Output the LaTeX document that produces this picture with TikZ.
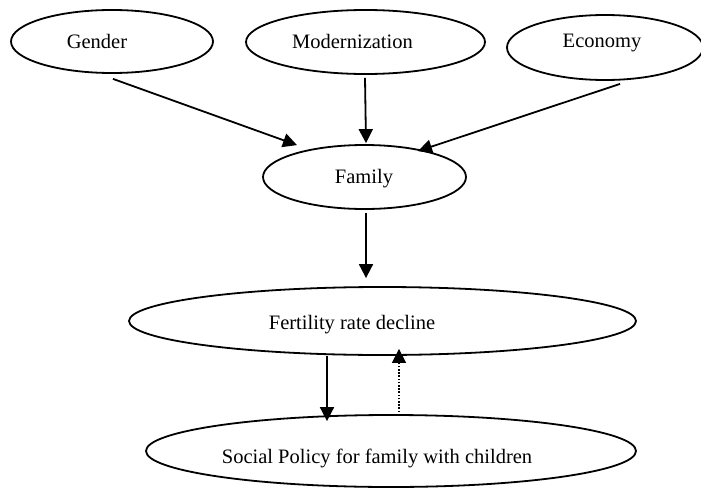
\documentclass[tikz,border=0pt]{standalone}
\usepackage{fontspec}
\setmainfont{Liberation Serif}
\usetikzlibrary{shapes.geometric,arrows.meta}
\begin{document}
\begin{tikzpicture}[x=0.5pt,y=-0.5pt,
  oval/.style={draw,ellipse,line width=0.9pt,inner sep=0pt},
  lbl/.style={anchor=base,inner sep=0pt,font=\fontsize{10.25}{12}\selectfont},
  arr/.style={line width=0.9pt,-{Triangle[length=7pt,width=7pt]}},
  dotarr/.style={line width=0.6pt,dash pattern=on 0.8pt off 0.8pt,-{Triangle[length=7pt,width=7pt]}}]
\useasboundingbox (0,0) rectangle (701,487);
% ellipses
\node[oval,minimum width=101pt,minimum height=31.5pt] (gender) at (112,41.5) {};
\node[oval,minimum width=119.5pt,minimum height=32pt] (modern) at (365.5,42) {};
\node[oval,minimum width=98pt,minimum height=32.5pt] (economy) at (605,47.5) {};
\node[oval,minimum width=101.5pt,minimum height=32pt] (family) at (364.5,177) {};
\node[oval,minimum width=253.5pt,minimum height=34pt] (fert) at (382.5,321) {};
\node[oval,minimum width=245pt,minimum height=36pt] (social) at (391,451) {};
% texts
\node[lbl] (tgender) at (97,48) {Gender};
\node[lbl] (tmodern) at (352.5,48) {Modernization};
\node[lbl] (teconomy) at (602,47.5) {Economy};
\node[lbl] (tfamily) at (364,183) {Family};
\node[lbl] (tfert) at (352,329.5) {Fertility rate decline};
\node[lbl] (tsocial) at (377,463) {Social Policy for family with children};
% connectors
\draw[arr] ([shift={(1,5)}]gender.south) -- ([shift={(-67.5,1)}]family.north);
\draw[arr] ([shift={(-0.5,3)}]modern.south) -- ([shift={(1.5,-1)}]family.north);
\draw[arr] ([shift={(15,3)}]economy.south) -- ([shift={(53.5,7)}]family.north);
\draw[arr] ([shift={(1.5,3)}]family.south) -- ([shift={(-16.5,-8)}]fert.north);
\draw[arr] ([shift={(-55.5,0)}]fert.south) -- ([shift={(-64,7)}]social.north);
\draw[dotarr] ([shift={(8,-2)}]social.north) -- ([shift={(16.5,-7)}]fert.south);
\end{tikzpicture}
\end{document}
